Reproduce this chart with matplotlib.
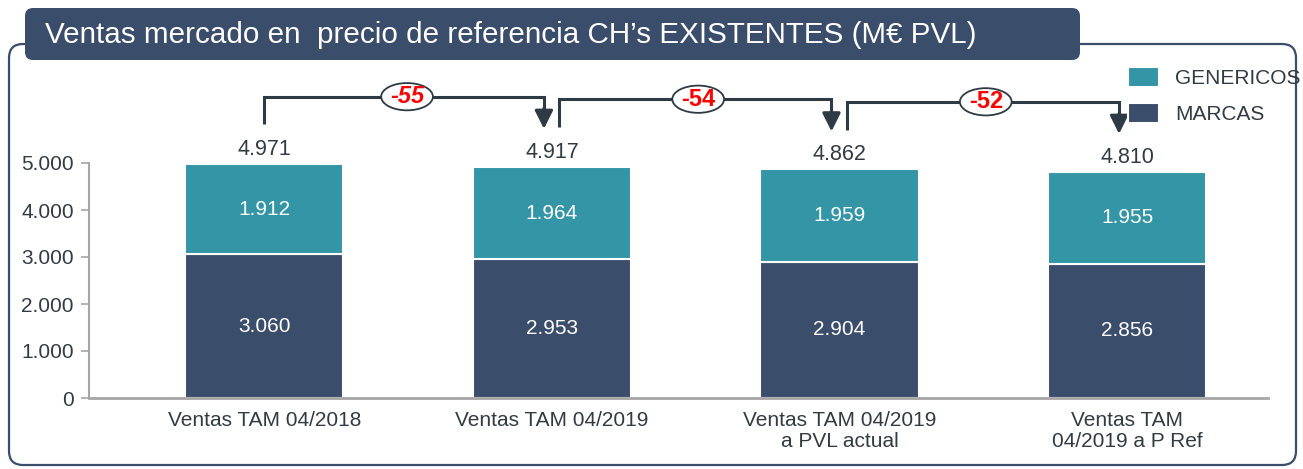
import numpy as np
import matplotlib.pyplot as plt
from matplotlib.patches import FancyBboxPatch, Ellipse

plt.rcParams['font.family'] = ['Liberation Sans', 'DejaVu Sans']

categories = ["Ventas TAM 04/2018", "Ventas TAM 04/2019",
              "Ventas TAM 04/2019\na PVL actual", "Ventas TAM\n04/2019 a P Ref"]
marcas = [3060, 2953, 2904, 2856]
genericos = [1912, 1964, 1959, 1955]
totals = [4971, 4917, 4862, 4810]
deltas = [-55, -54, -52]
delta_italic = [True, False, False]
yticks = [0, 1000, 2000, 3000, 4000, 5000]

c_marcas = "#3A4D6B"
c_gen = "#3395A5"
c_text = "#333B42"
c_arrow = "#2E3A44"
c_axis = "#A6A6A6"

def fmt(v):
    return f"{v:,}".replace(",", ".")

W, H = 1303, 469
fig = plt.figure(figsize=(W / 100, H / 100), dpi=100)

# background layer in pixel units: frame + title box
bg = fig.add_axes([0, 0, 1, 1])
bg.set_xlim(0, W)
bg.set_ylim(H, 0)
bg.axis("off")
frame = FancyBboxPatch((9, 44), 1287, 421, boxstyle="round,pad=0,rounding_size=14",
                       fc="none", ec=c_marcas, lw=1.6)
bg.add_patch(frame)
tbox = FancyBboxPatch((25, 8), 1055, 52, boxstyle="round,pad=0,rounding_size=8",
                      fc=c_marcas, ec="none")
bg.add_patch(tbox)
bg.text(45, 35, "Ventas mercado en  precio de referencia CH\u2019s EXISTENTES (M\u20ac PVL)",
        color="white", fontsize=21.3, va="center", ha="left")

# main chart
x0, x1, ybase = 89, 1268, 398
ax = fig.add_axes([x0 / W, (H - ybase) / H, (x1 - x0) / W, ybase / H])
ax.patch.set_alpha(0)
ppx = 5000 / 235.0  # data units per pixel
ax.set_ylim(0, ybase * ppx)
ax.set_xlim(-0.61, 3.49)

x = np.arange(len(categories))
bw = 0.55
b1 = ax.bar(x, marcas, bw, color=c_marcas, edgecolor="white", lw=1.5, label="MARCAS")
b2 = ax.bar(x, genericos, bw, bottom=marcas, color=c_gen, edgecolor="white", lw=1.5,
            label="GENERICOS")

for i in range(len(x)):
    ax.text(x[i], marcas[i] / 2, fmt(marcas[i]), color="white", fontsize=15,
            ha="center", va="center")
    ax.text(x[i], marcas[i] + genericos[i] / 2, fmt(genericos[i]), color="white",
            fontsize=15, ha="center", va="center")
    ax.annotate(fmt(totals[i]), (x[i], totals[i]), xytext=(0, 3),
                textcoords="offset points", ha="center", va="bottom",
                fontsize=15.5, color=c_text)

# change brackets between bars
for i, d in enumerate(deltas):
    xs = x[i] + (0.0 if i == 0 else 0.025)
    xe = x[i + 1] - 0.028
    top = totals[i] + 1440
    ys = totals[i] + 850
    ye = totals[i + 1] + 810
    ax.plot([xs, xs, xe, xe], [ys, top, top, top - 300], color=c_arrow, lw=2.2,
            solid_capstyle="butt", solid_joinstyle="miter", clip_on=False)
    ax.annotate("", xy=(xe, ye), xytext=(xe, top - 250),
                arrowprops=dict(arrowstyle="-|>,head_length=1.1,head_width=0.55",
                                color=c_arrow, lw=2.2, shrinkA=0, shrinkB=0))
    xm = (xs + xe) / 2 + 0.01
    ax.add_patch(Ellipse((xm, top), 0.18, 580, fc="white", ec=c_arrow, lw=1.3,
                         zorder=5))
    ax.text(xm, top, str(d), color="#FF0000", fontsize=17, fontweight="bold",
            fontstyle="italic" if delta_italic[i] else "normal",
            ha="center", va="center", zorder=6)

ax.set_xticks(x)
ax.set_xticklabels(categories, fontsize=15, color=c_text, linespacing=1.15)
ax.tick_params(axis="x", length=0, pad=9)
ax.set_yticks(yticks)
ax.set_yticklabels([fmt(v) for v in yticks], fontsize=15, color=c_text)
ax.tick_params(axis="y", length=6, width=1.2, color=c_axis, pad=5)
for s in ["top", "right"]:
    ax.spines[s].set_visible(False)
ax.spines["left"].set_bounds(0, 5000)
ax.spines["left"].set_color(c_axis)
ax.spines["left"].set_linewidth(1.5)
ax.spines["bottom"].set_color(c_axis)
ax.spines["bottom"].set_linewidth(2)

leg = ax.legend(handles=[b2, b1], loc="upper left", bbox_to_anchor=(1120 / W, 1 - 59 / H),
                bbox_transform=fig.transFigure, frameon=False, fontsize=15,
                handlelength=1.45, handleheight=1.1, handletextpad=0.8,
                labelspacing=0.72, borderaxespad=0)
for t in leg.get_texts():
    t.set_color(c_text)

fig.savefig("out.png", dpi=100)
